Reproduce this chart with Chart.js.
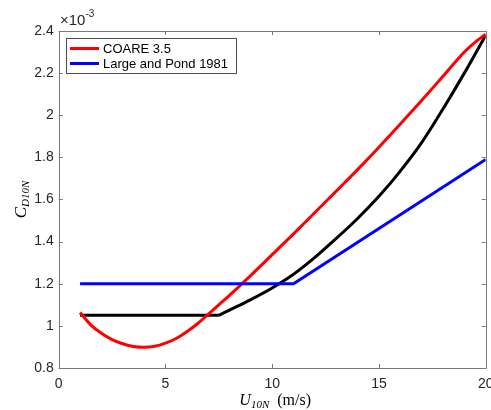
<!DOCTYPE html>
<html><head><meta charset="utf-8">
<script src="https://cdn.jsdelivr.net/npm/chart.js@4/dist/chart.umd.min.js"></script>
<style>html,body{margin:0;padding:0;background:#fff}canvas{display:block}</style>
</head><body>
<canvas id="c" width="491" height="410"></canvas>
<script>
// ---- data (C_D10N in units of 1e-3) ----
const xTicks = [0, 5, 10, 15, 20];
const yTicks = [0.8, 1.0, 1.2, 1.4, 1.6, 1.8, 2.0, 2.2, 2.4];
const seriesLabels = ['COARE 3.5', 'Large and Pond 1981'];

const coareU  = [1, 1.5, 2, 2.5, 3, 3.5, 4, 4.5, 5, 5.5, 6, 6.5, 7, 7.5, 8, 9, 10, 11, 12, 13, 14, 15, 16, 17, 18, 19, 19.4, 20];
const coareCd = [1.063, 1.005, 0.965, 0.935, 0.915, 0.902, 0.898, 0.903, 0.918, 0.94, 0.972, 1.01, 1.055, 1.10, 1.145, 1.24, 1.338, 1.437, 1.538, 1.64, 1.742, 1.848, 1.958, 2.07, 2.185, 2.30, 2.338, 2.385];

const lpU  = [1, 11, 20];
const lpCd = [1.2, 1.2, 1.79];

// third (unlabelled) curve: flat part and rising part
const blackFlatU  = [1, 7.5];
const blackFlatCd = [1.05, 1.05];
const blackRiseU  = [7.5, 8, 9, 10, 11, 12, 13, 14, 15, 16, 17, 18, 19, 20];
const blackRiseCd = [1.05, 1.075, 1.125, 1.18, 1.245, 1.325, 1.415, 1.51, 1.615, 1.735, 1.87, 2.03, 2.2, 2.38];

const pts = (xs, ys) => xs.map((x, i) => ({x: x, y: ys[i]}));

const TICK_FONT = {family: '"Liberation Sans", Arial, Helvetica, sans-serif', size: 14};
const TICK_COLOR = '#262626';
const AXIS_COLOR = '#7a7a7a';

const framePlugin = {
  id: 'frame',
  afterDatasetsDraw(chart) {
    const ctx = chart.ctx, a = chart.chartArea;
    const xs = chart.scales.x, ys = chart.scales.y;
    ctx.save();
    ctx.strokeStyle = AXIS_COLOR;
    ctx.lineWidth = 1;
    ctx.beginPath();
    ctx.rect(Math.round(a.left) + 0.5, Math.round(a.top) + 0.5, Math.round(a.right - a.left), Math.round(a.bottom - a.top));
    ctx.stroke();
    const L = 4;
    ctx.beginPath();
    xTicks.forEach(v => {
      const p = Math.round(xs.getPixelForValue(v)) + 0.5;
      ctx.moveTo(p, a.bottom); ctx.lineTo(p, a.bottom - L);
      ctx.moveTo(p, a.top); ctx.lineTo(p, a.top + L);
    });
    yTicks.forEach(v => {
      const p = Math.round(ys.getPixelForValue(v)) + 0.5;
      ctx.moveTo(a.left, p); ctx.lineTo(a.left + L, p);
      ctx.moveTo(a.right, p); ctx.lineTo(a.right - L, p);
    });
    ctx.stroke();
    ctx.restore();
  },
  afterDraw(chart) {
    const ctx = chart.ctx, a = chart.chartArea;
    ctx.save();
    // legend
    const lx = 66, ly = 38, lw = 170, lh = 35;
    ctx.fillStyle = '#fff';
    ctx.fillRect(lx, ly, lw, lh);
    ctx.strokeStyle = '#4d4d4d';
    ctx.lineWidth = 1;
    ctx.strokeRect(lx + 0.5, ly + 0.5, lw, lh);
    const cols = [chart.data.datasets[0].borderColor, chart.data.datasets[1].borderColor];
    ctx.font = '13px "Liberation Sans", Arial, sans-serif';
    ctx.textBaseline = 'middle';
    ctx.textAlign = 'left';
    seriesLabels.forEach((lab, i) => {
      const cy = ly + 10.5 + i * 15;
      ctx.strokeStyle = cols[i];
      ctx.lineWidth = 3;
      ctx.beginPath(); ctx.moveTo(70, cy); ctx.lineTo(99, cy); ctx.stroke();
      ctx.fillStyle = '#000';
      ctx.fillText(lab, 103, cy + 0.5);
    });
    // exponent label
    ctx.fillStyle = TICK_COLOR;
    ctx.textBaseline = 'alphabetic';
    ctx.font = '15px "Liberation Sans", Arial, sans-serif';
    ctx.fillText('\u00d710', 60, 25);
    const w10 = ctx.measureText('\u00d710').width;
    ctx.font = '10px "Liberation Sans", Arial, sans-serif';
    ctx.fillText('-3', 60 + w10, 17);
    // x title
    const serifI = 'italic 16px "Liberation Serif", "DejaVu Serif", serif';
    const serifSubI = 'italic 11px "Liberation Serif", "DejaVu Serif", serif';
    const serifR = '16px "Liberation Serif", "DejaVu Serif", serif';
    const partsX = [
      {t: 'U', f: serifI, dy: 0},
      {t: '10N', f: serifSubI, dy: 3},
      {t: '  (m/s)', f: serifR, dy: 0}
    ];
    let total = 0;
    partsX.forEach(p => { ctx.font = p.f; p.w = ctx.measureText(p.t).width; total += p.w; });
    let x0 = (a.left + a.right) / 2 - total / 2 + 3;
    const bx = 405;
    ctx.fillStyle = '#000';
    partsX.forEach(p => { ctx.font = p.f; ctx.fillText(p.t, x0, bx + p.dy); x0 += p.w; });
    // y title (rotated)
    const partsY = [
      {t: 'C', f: 'italic 17px "Liberation Serif", "DejaVu Serif", serif', dy: 0},
      {t: 'D10N', f: serifSubI, dy: 3}
    ];
    total = 0;
    partsY.forEach(p => { ctx.font = p.f; p.w = ctx.measureText(p.t).width; total += p.w; });
    ctx.translate(26, (a.top + a.bottom) / 2);
    ctx.rotate(-Math.PI / 2);
    let y0 = -total / 2;
    partsY.forEach(p => { ctx.font = p.f; ctx.fillText(p.t, y0, p.dy); y0 += p.w; });
    ctx.restore();
  }
};

const lineDs = (label, data, color, extra) => Object.assign({
  label: label, data: data, borderColor: color, backgroundColor: color,
  showLine: true, borderWidth: 3, pointRadius: 0, fill: false
}, extra || {});

new Chart(document.getElementById('c'), {
  type: 'scatter',
  data: {
    datasets: [
      lineDs(seriesLabels[0], pts(coareU, coareCd), '#ff0000', {cubicInterpolationMode: 'monotone', order: 1}),
      lineDs(seriesLabels[1], pts(lpU, lpCd), '#0000ff', {order: 0}),
      lineDs('', pts(blackFlatU, blackFlatCd), '#000000', {order: 2}),
      lineDs('', pts(blackRiseU, blackRiseCd), '#000000', {cubicInterpolationMode: 'monotone', order: 2})
    ]
  },
  options: {
    responsive: false,
    animation: false,
    devicePixelRatio: 1,
    layout: {padding: {left: 0, right: 5.3, top: 31, bottom: 0}},
    plugins: {legend: {display: false}, tooltip: {enabled: false}},
    scales: {
      x: {
        type: 'linear', min: 0, max: 20,
        grid: {display: false, drawTicks: false},
        border: {display: false},
        ticks: {font: TICK_FONT, color: TICK_COLOR, padding: 8, maxRotation: 0},
        afterBuildTicks: s => { s.ticks = xTicks.map(v => ({value: v})); },
        afterFit: s => { s.height = 42; s.paddingLeft = 0; s.paddingRight = 0; }
      },
      y: {
        type: 'linear', min: 0.8, max: 2.4,
        grid: {display: false, drawTicks: false},
        border: {display: false},
        ticks: {font: TICK_FONT, color: TICK_COLOR, padding: 5, callback: v => String(Math.round(v * 10) / 10)},
        afterBuildTicks: s => { s.ticks = yTicks.map(v => ({value: v})); },
        afterFit: s => { s.width = 58.7; s.paddingTop = 0; s.paddingBottom = 0; }
      }
    }
  },
  plugins: [framePlugin]
});
</script>
</body></html>
